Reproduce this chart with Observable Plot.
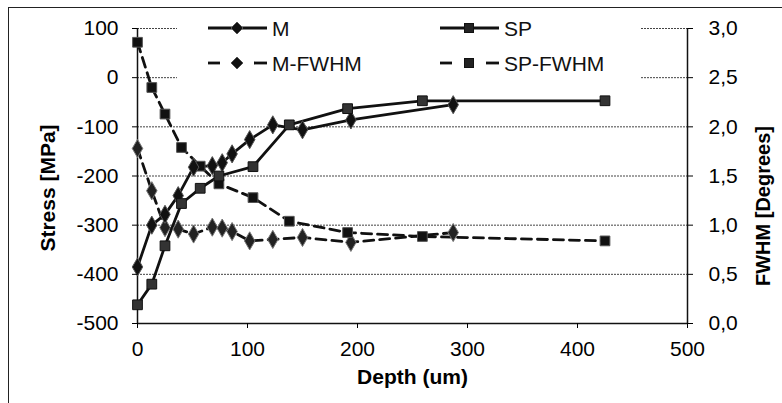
<!DOCTYPE html>
<html><head><meta charset="utf-8">
<script src="https://cdn.jsdelivr.net/npm/d3@7"></script>
<script src="https://cdn.jsdelivr.net/npm/@observablehq/plot@0.6"></script>
<style>
body{margin:0;background:#fff;font-family:"Liberation Sans",Arial,sans-serif;}
#wrap{position:relative;width:782px;height:403px;overflow:hidden;background:#fff;}
#frame{position:absolute;left:8px;top:7px;width:800px;height:420px;border-left:1.5px solid #222;border-top:1.5px solid #222;}
#chart{position:absolute;left:0;top:0;}
#legend{position:absolute;left:177px;top:10px;width:463px;height:70px;background:#fff;}
</style></head><body>
<div id="wrap"><div id="frame"></div><div id="chart"></div><div id="legend"></div></div>
<script>
// ---- data ----
const depthM  = [0, 13, 25, 37, 51, 68, 77, 86, 102, 123, 150, 194, 287];
const stressM = [-385, -300, -278, -240, -182, -179, -173, -155, -126, -96, -106, -86, -55];
const fwhmM   = [1.78, 1.35, 0.975, 0.96, 0.91, 0.98, 0.97, 0.935, 0.84, 0.855, 0.875, 0.825, 0.925];
const depthSP  = [0, 13, 25, 40, 57, 74, 105, 138, 191, 259, 425];
const stressSP = [-462, -420, -342, -256, -225, -200, -181, -96, -63, -47, -47];
const fwhmSP   = [2.86, 2.40, 2.13, 1.79, 1.60, 1.42, 1.28, 1.04, 0.925, 0.885, 0.84];
const stressTicks = [100, 0, -100, -200, -300, -400, -500];
const fwhmTicks = [3.0, 2.5, 2.0, 1.5, 1.0, 0.5, 0.0];
const depthTicks = [0, 100, 200, 300, 400, 500];
const seriesNames = ["M", "SP", "M-FWHM", "SP-FWHM"];

// FWHM (right axis 0..3) mapped onto stress scale (-500..100)
const f2s = f => f * 200 - 500;
const s2f = s => (s + 500) / 200;

const M = depthM.map((d, i) => ({depth: d, v: stressM[i]}));
const SP = depthSP.map((d, i) => ({depth: d, v: stressSP[i]}));
const MF = depthM.map((d, i) => ({depth: d, v: f2s(fwhmM[i])}));
const SPF = depthSP.map((d, i) => ({depth: d, v: f2s(fwhmSP[i])}));

const FS = 21;
const dash = "10,6";
const lw = 2.8;

const plot = Plot.plot({
  width: 782, height: 403,
  marginLeft: 137, marginRight: 95, marginTop: 28, marginBottom: 80,
  style: {background: "transparent", fontFamily: "'Liberation Sans', Arial, sans-serif", overflow: "visible"},
  x: {domain: [0, 500]},
  y: {domain: [-500, 100]},
  marks: [
    Plot.ruleY(stressTicks.filter(t => t > -500), {stroke: "#444", strokeWidth: 1, strokeDasharray: "2,1"}),
    Plot.ruleY([-500], {stroke: "#111", strokeWidth: 1.5}),
    Plot.ruleX([0, 500], {y1: -500, y2: 100, stroke: "#111", strokeWidth: 1.5}),
    Plot.line(MF, {x: "depth", y: "v", stroke: "#111", strokeWidth: lw, strokeDasharray: dash}),
    Plot.line(SPF, {x: "depth", y: "v", stroke: "#111", strokeWidth: lw, strokeDasharray: dash}),
    Plot.line(M, {x: "depth", y: "v", stroke: "#111", strokeWidth: lw}),
    Plot.line(SP, {x: "depth", y: "v", stroke: "#111", strokeWidth: lw}),
    Plot.dot(MF, {x: "depth", y: "v", symbol: "diamond", r: 5.5, fill: "#222", stroke: "#777", strokeWidth: 1}),
    Plot.dot(SPF, {x: "depth", y: "v", symbol: "square", r: 5.5, fill: "#111", stroke: "#555", strokeWidth: 1}),
    Plot.dot(M, {x: "depth", y: "v", symbol: "diamond", r: 5.5, fill: "#111", stroke: "#555", strokeWidth: 1}),
    Plot.dot(SP, {x: "depth", y: "v", symbol: "square", r: 5.5, fill: "#333", stroke: "#111", strokeWidth: 1}),
    Plot.axisY(stressTicks, {anchor: "left", tickSize: 5, tickPadding: 14, fontSize: FS, label: null, tickFormat: d => d}),
    Plot.axisY(fwhmTicks.map(f2s), {anchor: "right", tickSize: 5, tickPadding: 16, fontSize: FS, label: null,
      tickFormat: s => s2f(s).toFixed(1).replace(".", ",")}),
    Plot.axisX(depthTicks, {anchor: "bottom", tickSize: 5, tickPadding: 13, fontSize: FS, label: null, tickFormat: d => d}),
    Plot.text(["Stress [MPa]"], {frameAnchor: "left", textAnchor: "middle", dx: -89, dy: 12, rotate: -90, fontSize: FS, fontWeight: "bold"}),
    Plot.text(["FWHM [Degrees]"], {frameAnchor: "right", textAnchor: "middle", dx: 76, dy: 30, rotate: -90, fontSize: 20, fontWeight: "bold"}),
    Plot.text(["Depth (um)"], {frameAnchor: "bottom", dy: 60, fontSize: FS, fontWeight: "bold"})
  ]
});
document.getElementById("chart").appendChild(plot);

// ---- legend ----
const lg = d3.select("#legend").append("svg").attr("width", 463).attr("height", 70)
  .style("font-family", "'Liberation Sans', Arial, sans-serif");
const items = [
  {name: seriesNames[0], x: 31, y: 18, dashed: false, sym: "diamond"},
  {name: seriesNames[1], x: 263, y: 18, dashed: false, sym: "square"},
  {name: seriesNames[2], x: 31, y: 53, dashed: true, sym: "diamond"},
  {name: seriesNames[3], x: 263, y: 53, dashed: true, sym: "square"}
];
for (const it of items) {
  const g = lg.append("g").attr("transform", `translate(${it.x},${it.y})`);
  if (it.dashed) {
    g.append("line").attr("x1", 0).attr("x2", 12).attr("stroke", "#111").attr("stroke-width", lw);
    g.append("line").attr("x1", 46).attr("x2", 59).attr("stroke", "#111").attr("stroke-width", lw);
  } else {
    g.append("line").attr("x1", 0).attr("x2", 59).attr("stroke", "#111").attr("stroke-width", lw);
  }
  if (it.sym === "diamond") {
    g.append("path").attr("d", "M29,-6L35,0L29,6L23,0Z").attr("fill", "#111").attr("stroke", "#555");
  } else {
    g.append("rect").attr("x", 24.5).attr("y", -4.5).attr("width", 9).attr("height", 9).attr("fill", "#222").attr("stroke", "#111");
  }
  g.append("text").attr("x", 64).attr("y", 0).attr("dy", "0.36em").attr("font-size", FS).attr("fill", "#111").text(it.name);
}
</script>
</body></html>
